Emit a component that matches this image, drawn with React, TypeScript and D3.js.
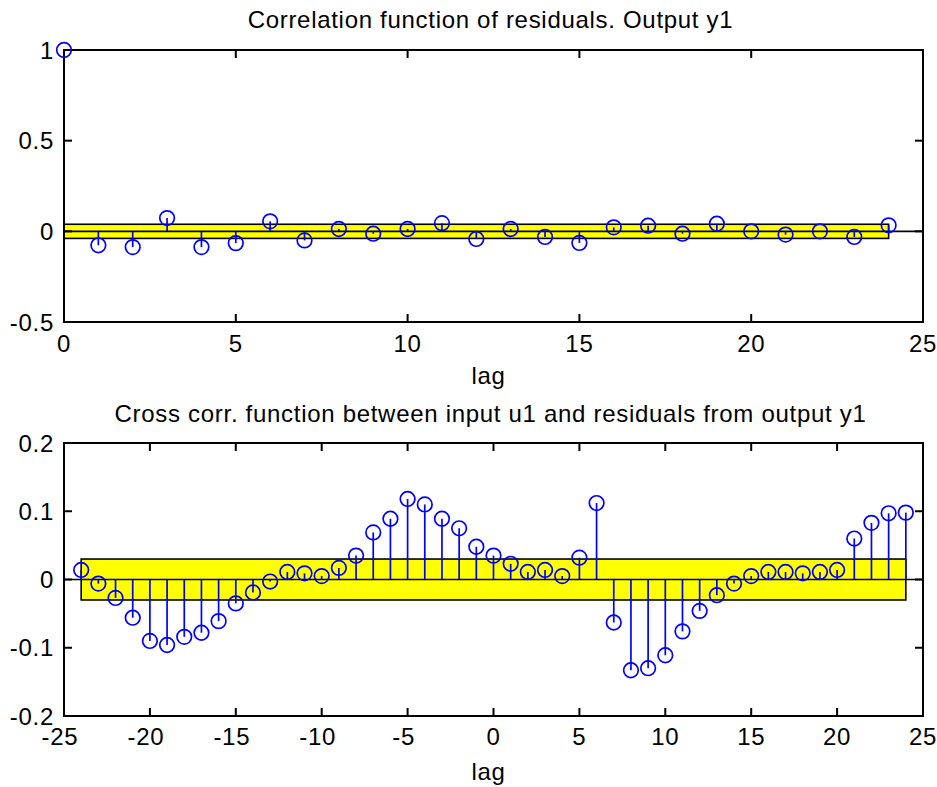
import React from "react";
import * as d3 from "d3";

// ---------- data ----------
const acfLags = [0, 1, 2, 3, 4, 5, 6, 7, 8, 9, 10, 11, 12, 13, 14, 15, 16, 17, 18, 19, 20, 21, 22, 23, 24];
const acfValues = [
  1.0, -0.077, -0.087, 0.073, -0.087, -0.065, 0.055, -0.05, 0.013, -0.013, 0.013, 0.045,
  -0.042, 0.013, -0.031, -0.064, 0.022, 0.031, -0.013, 0.042, 0.0, -0.018, 0.0, -0.031, 0.033,
];
const acfConf = 0.039;

const ccfLags = [
  -24, -23, -22, -21, -20, -19, -18, -17, -16, -15, -14, -13, -12, -11, -10, -9, -8, -7, -6, -5, -4, -3, -2, -1,
  0, 1, 2, 3, 4, 5, 6, 7, 8, 9, 10, 11, 12, 13, 14, 15, 16, 17, 18, 19, 20, 21, 22, 23, 24,
];
const ccfValues = [
  0.014, -0.006, -0.027, -0.056, -0.09, -0.096, -0.084, -0.078, -0.061, -0.035, -0.019, -0.003,
  0.011, 0.009, 0.005, 0.017, 0.035, 0.069, 0.089, 0.118, 0.11, 0.089, 0.075, 0.048,
  0.035, 0.023, 0.011, 0.014, 0.005, 0.032, 0.112, -0.063, -0.133, -0.13, -0.111, -0.076,
  -0.046, -0.023, -0.006, 0.005, 0.011, 0.011, 0.009, 0.011, 0.014, 0.06, 0.083, 0.097, 0.098,
];
const ccfConf = 0.03;

const topXTicks = [0, 5, 10, 15, 20, 25];
const topYTicks = [-0.5, 0, 0.5, 1];
const botXTicks = [-25, -20, -15, -10, -5, 0, 5, 10, 15, 20, 25];
const botYTicks = [-0.2, -0.1, 0, 0.1, 0.2];

const topTitle = "Correlation function of residuals. Output y1";
const botTitle = "Cross corr. function between input u1 and residuals from output y1";
const xLabel = "lag";

// ---------- layout ----------
const W = 937;
const H = 787;
const FONT = "'Liberation Sans', Arial, Helvetica, sans-serif";
const FS = 24;
const LS = 0.7;
const BLUE = "#0000ff";
const YELLOW = "#ffff00";

type PanelProps = {
  x: d3.ScaleLinear<number, number>;
  y: d3.ScaleLinear<number, number>;
  lags: number[];
  values: number[];
  conf: number;
  bandFrom: number;
  bandTo: number;
  xTicks: number[];
  yTicks: number[];
  title: string;
  titleY: number;
  xTickY: number;
  xLabelY: number;
};

function fmt(v: number) {
  return String(Math.round(v * 100) / 100);
}

function Panel(p: PanelProps) {
  const { x, y } = p;
  const [x0, x1] = x.range();
  const [yb, yt] = y.range();
  const tickLen = 8;
  const cx = (x0 + x1) / 2;
  return (
    <g>
      {/* confidence band */}
      <rect
        x={x(p.bandFrom)}
        y={y(p.conf)}
        width={x(p.bandTo) - x(p.bandFrom)}
        height={y(-p.conf) - y(p.conf)}
        fill={YELLOW}
        stroke="#000"
        strokeWidth={1.6}
      />
      {/* baseline */}
      <line x1={x0} x2={x1} y1={y(0)} y2={y(0)} stroke="#000" strokeWidth={1.6} />
      {/* stems */}
      {p.lags.map((l, i) => (
        <line key={"s" + i} x1={x(l)} x2={x(l)} y1={y(0)} y2={y(p.values[i])} stroke={BLUE} strokeWidth={1.7} />
      ))}
      {/* axes box */}
      <rect x={x0} y={yt} width={x1 - x0} height={yb - yt} fill="none" stroke="#000" strokeWidth={2} />
      {p.xTicks.map((t) => (
        <g key={"xt" + t}>
          <line x1={x(t)} x2={x(t)} y1={yb} y2={yb - tickLen} stroke="#000" strokeWidth={2} />
          <line x1={x(t)} x2={x(t)} y1={yt} y2={yt + tickLen} stroke="#000" strokeWidth={2} />
          <text
            x={x(t) - (t < 0 ? 4 : 0)}
            y={p.xTickY}
            textAnchor="middle"
            fontFamily={FONT}
            fontSize={FS}
            letterSpacing={LS}
            fill="#000"
          >
            {fmt(t)}
          </text>
        </g>
      ))}
      {p.yTicks.map((t) => (
        <g key={"yt" + t}>
          <line x1={x0} x2={x0 + tickLen} y1={y(t)} y2={y(t)} stroke="#000" strokeWidth={2} />
          <line x1={x1} x2={x1 - tickLen} y1={y(t)} y2={y(t)} stroke="#000" strokeWidth={2} />
          <text
            x={x0 - 10}
            y={y(t)}
            dy="0.36em"
            textAnchor="end"
            fontFamily={FONT}
            fontSize={FS}
            letterSpacing={LS}
            fill="#000"
          >
            {fmt(t)}
          </text>
        </g>
      ))}
      {/* markers */}
      {p.lags.map((l, i) => (
        <circle key={"c" + i} cx={x(l)} cy={y(p.values[i])} r={7.3} fill="none" stroke={BLUE} strokeWidth={1.7} />
      ))}
      <text x={cx - 3} y={p.titleY} textAnchor="middle" fontFamily={FONT} fontSize={FS} letterSpacing={LS} fill="#000">
        {p.title}
      </text>
      <text x={cx - 5} y={p.xLabelY} textAnchor="middle" fontFamily={FONT} fontSize={FS} letterSpacing={LS} fill="#000">
        {xLabel}
      </text>
    </g>
  );
}

export default function App() {
  const xTop = d3.scaleLinear().domain([0, 25]).range([64, 923]);
  const yTop = d3.scaleLinear().domain([-0.5, 1]).range([322, 50]);
  const xBot = d3.scaleLinear().domain([-25, 25]).range([64, 923]);
  const yBot = d3.scaleLinear().domain([-0.2, 0.2]).range([716, 443]);
  return (
    <svg
      width={W}
      height={H}
      viewBox={`0 0 ${W} ${H}`}
      style={{ position: "absolute", left: 0, top: 0, background: "#fff", display: "block" }}
    >
      <rect x={0} y={0} width={W} height={H} fill="#fff" />
      <Panel
        x={xTop}
        y={yTop}
        lags={acfLags}
        values={acfValues}
        conf={acfConf}
        bandFrom={0}
        bandTo={24}
        xTicks={topXTicks}
        yTicks={topYTicks}
        title={topTitle}
        titleY={28}
        xTickY={352}
        xLabelY={384}
      />
      <Panel
        x={xBot}
        y={yBot}
        lags={ccfLags}
        values={ccfValues}
        conf={ccfConf}
        bandFrom={-24}
        bandTo={24}
        xTicks={botXTicks}
        yTicks={botYTicks}
        title={botTitle}
        titleY={422}
        xTickY={745}
        xLabelY={780}
      />
    </svg>
  );
}
